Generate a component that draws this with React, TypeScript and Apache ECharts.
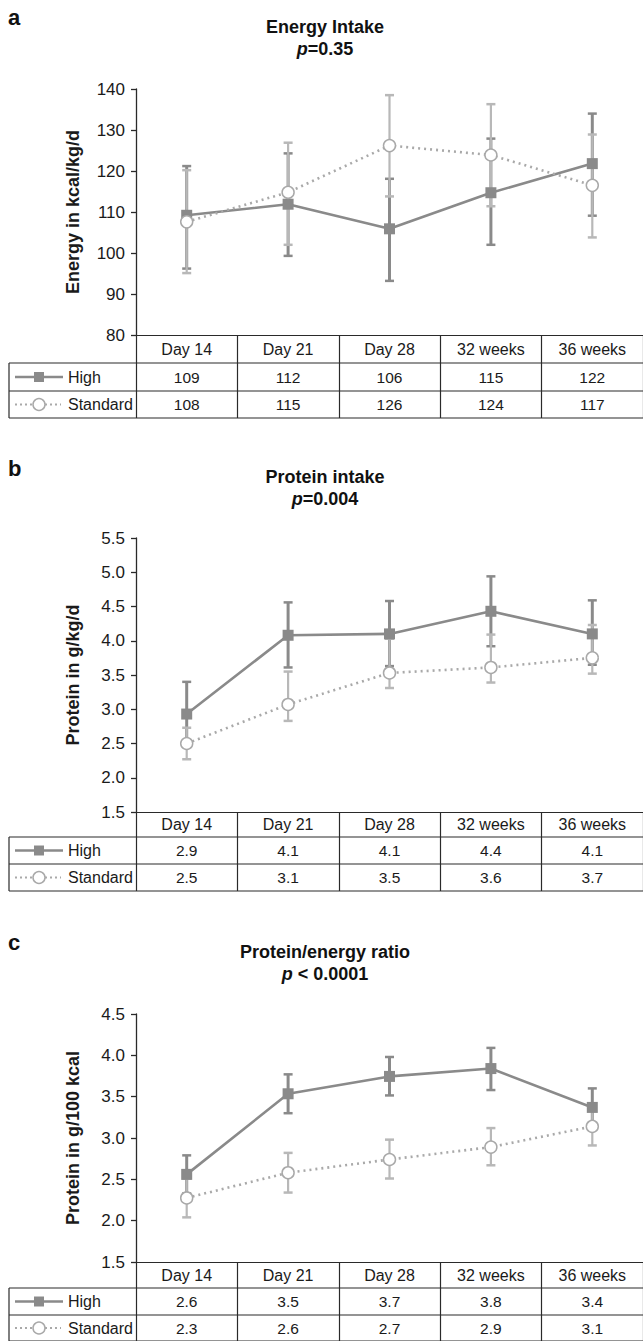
import React, { useEffect, useRef } from "react";
import * as echarts from "echarts";

const categories = ["Day 14", "Day 21", "Day 28", "32 weeks", "36 weeks"];

// Panel a — Energy intake
const energyHigh = [109.2, 111.9, 105.9, 114.7, 121.8];
const energyHighLow = [96.2, 99.3, 93.2, 102.0, 109.1];
const energyHighUp = [121.2, 124.3, 118.1, 127.9, 134.0];
const energyStd = [107.6, 114.8, 126.2, 123.9, 116.5];
const energyStdLow = [95.1, 102.0, 113.8, 111.4, 103.8];
const energyStdUp = [120.2, 126.9, 138.5, 136.3, 128.9];
const energyHighTable = ["109", "112", "106", "115", "122"];
const energyStdTable = ["108", "115", "126", "124", "117"];

// Panel b — Protein intake
const proteinHigh = [2.93, 4.08, 4.1, 4.43, 4.1];
const proteinHighLow = [2.45, 3.61, 3.63, 3.92, 3.65];
const proteinHighUp = [3.4, 4.56, 4.58, 4.94, 4.59];
const proteinStd = [2.5, 3.07, 3.53, 3.61, 3.75];
const proteinStdLow = [2.27, 2.83, 3.31, 3.39, 3.52];
const proteinStdUp = [2.73, 3.55, 4.03, 4.09, 4.23];
const proteinHighTable = ["2.9", "4.1", "4.1", "4.4", "4.1"];
const proteinStdTable = ["2.5", "3.1", "3.5", "3.6", "3.7"];

// Panel c — Protein/energy ratio
const ratioHigh = [2.56, 3.535, 3.745, 3.84, 3.37];
const ratioHighLow = [2.33, 3.3, 3.515, 3.58, 3.14];
const ratioHighUp = [2.79, 3.77, 3.98, 4.09, 3.6];
const ratioStd = [2.275, 2.58, 2.74, 2.89, 3.14];
const ratioStdLow = [2.04, 2.34, 2.51, 2.67, 2.91];
const ratioStdUp = [2.51, 2.82, 2.98, 3.12, 3.37];
const ratioHighTable = ["2.6", "3.5", "3.7", "3.8", "3.4"];
const ratioStdTable = ["2.3", "2.6", "2.7", "2.9", "3.1"];

const panelLetters = ["a", "b", "c"];
const panelTitles = ["Energy Intake", "Protein intake", "Protein/energy ratio"];
const panelPValues = ["=0.35", "=0.004", " < 0.0001"];
const yNames = ["Energy in kcal/kg/d", "Protein in g/kg/d", "Protein in g/100 kcal"];
const yMins = [80, 1.5, 1.5];
const yMaxs = [140, 5.5, 4.5];
const yIntervals = [10, 0.5, 0.5];
const yDecimals = [0, 1, 1];
const legendLabels = ["High", "Standard"];

const FONT = "'Liberation Sans', Arial, sans-serif";
const HIGH_COLOR = "#8a8a8a";
const STD_COLOR = "#a9a9a9";
const STD_ERR_COLOR = "#b8b8b8";
const TABLE_COLOR = "#2a2a2a";

const layout = [
  { top: 89, height: 246, rows: [28, 28, 27], letterY: 17, titleY: 27 },
  { top: 538, height: 274, rows: [25, 27, 27], letterY: 468, titleY: 477 },
  { top: 1014, height: 248, rows: [26, 27, 26], letterY: 942, titleY: 952 },
];

const panelData = [
  {
    high: energyHigh, highLow: energyHighLow, highUp: energyHighUp,
    std: energyStd, stdLow: energyStdLow, stdUp: energyStdUp,
    highTable: energyHighTable, stdTable: energyStdTable,
  },
  {
    high: proteinHigh, highLow: proteinHighLow, highUp: proteinHighUp,
    std: proteinStd, stdLow: proteinStdLow, stdUp: proteinStdUp,
    highTable: proteinHighTable, stdTable: proteinStdTable,
  },
  {
    high: ratioHigh, highLow: ratioHighLow, highUp: ratioHighUp,
    std: ratioStd, stdLow: ratioStdLow, stdUp: ratioStdUp,
    highTable: ratioHighTable, stdTable: ratioStdTable,
  },
];

function errorSeries(i: number, low: number[], up: number[], color: string, width: number, z: number) {
  return {
    type: "custom",
    xAxisIndex: i * 3,
    yAxisIndex: i,
    z,
    data: low.map((l, j) => [j, l, up[j]]),
    encode: { x: 0, y: [1, 2] },
    renderItem: (params: any, api: any) => {
      const b = api.coord([api.value(0), api.value(1)]);
      const t = api.coord([api.value(0), api.value(2)]);
      const style = { stroke: color, lineWidth: width };
      const capStyle = { stroke: color, lineWidth: 2.5 };
      const half = 4.5;
      return {
        type: "group",
        children: [
          { type: "line", shape: { x1: b[0], y1: b[1], x2: t[0], y2: t[1] }, style },
          { type: "line", shape: { x1: b[0] - half, y1: b[1], x2: b[0] + half, y2: b[1] }, style: capStyle },
          { type: "line", shape: { x1: t[0] - half, y1: t[1], x2: t[0] + half, y2: t[1] }, style: capStyle },
        ],
      };
    },
  };
}

function buildOption() {
  const grid: any[] = [];
  const xAxis: any[] = [];
  const yAxis: any[] = [];
  const series: any[] = [];
  const graphic: any[] = [];

  layout.forEach((L, i) => {
    const d = panelData[i];
    const axisY = L.top + L.height;
    const [h0, h1, h2] = L.rows;
    const tableH = h0 + h1 + h2;

    grid.push({ left: 136, top: L.top, width: 513, height: L.height });

    xAxis.push({
      gridIndex: i,
      type: "category",
      data: categories,
      boundaryGap: true,
      axisLine: { show: true, lineStyle: { color: TABLE_COLOR, width: 1.2 } },
      axisTick: { show: true, interval: 0, length: tableH, lineStyle: { color: TABLE_COLOR, width: 1.2 } },
      axisLabel: { interval: 0, margin: h0 / 2 - 8, fontSize: 16, color: "#1a1a1a", fontFamily: FONT },
      splitLine: { show: false },
    });
    xAxis.push({
      gridIndex: i,
      type: "category",
      data: d.highTable,
      position: "bottom",
      offset: h0,
      boundaryGap: true,
      axisLine: { show: false },
      axisTick: { show: false },
      axisLabel: { interval: 0, margin: h1 / 2 - 8, fontSize: 15.5, color: "#1a1a1a", fontFamily: FONT },
      splitLine: { show: false },
    });
    xAxis.push({
      gridIndex: i,
      type: "category",
      data: d.stdTable,
      position: "bottom",
      offset: h0 + h1,
      boundaryGap: true,
      axisLine: { show: false },
      axisTick: { show: false },
      axisLabel: { interval: 0, margin: h2 / 2 - 8, fontSize: 15.5, color: "#1a1a1a", fontFamily: FONT },
      splitLine: { show: false },
    });

    const dec = yDecimals[i];
    yAxis.push({
      gridIndex: i,
      type: "value",
      min: yMins[i],
      max: yMaxs[i],
      interval: yIntervals[i],
      name: yNames[i],
      nameLocation: "middle",
      nameGap: 54,
      nameTextStyle: { fontSize: 18, fontWeight: "bold", color: "#1a1a1a", fontFamily: FONT },
      axisLine: { show: true, lineStyle: { color: TABLE_COLOR, width: 1.3 } },
      axisTick: { show: true, length: 5, lineStyle: { color: TABLE_COLOR, width: 1.3 } },
      axisLabel: {
        margin: 11,
        fontSize: 17,
        color: "#1a1a1a",
        fontFamily: FONT,
        formatter: (v: number) => v.toFixed(dec),
      },
      splitLine: { show: false },
    });

    series.push(errorSeries(i, d.highLow, d.highUp, HIGH_COLOR, 3, 2));
    series.push(errorSeries(i, d.stdLow, d.stdUp, STD_ERR_COLOR, 2.2, 3));
    series.push({
      type: "line",
      xAxisIndex: i * 3,
      yAxisIndex: i,
      data: d.high,
      symbol: "rect",
      symbolSize: 11,
      z: 4,
      itemStyle: { color: HIGH_COLOR },
      lineStyle: { color: HIGH_COLOR, width: 2.6 },
    });
    series.push({
      type: "line",
      xAxisIndex: i * 3,
      yAxisIndex: i,
      data: d.std,
      symbol: "circle",
      symbolSize: 12,
      z: 5,
      itemStyle: { color: "#ffffff", borderColor: STD_COLOR, borderWidth: 1.5 },
      lineStyle: { color: STD_COLOR, width: 2.6, type: [2, 4] },
    });

    // table horizontal lines and left border
    const yHead = axisY + h0;
    const yRow1 = yHead + h1;
    const yRow2 = yRow1 + h2;
    [yHead, yRow1, yRow2].forEach((yy) => {
      graphic.push({
        type: "line",
        shape: { x1: 9, y1: yy, x2: 643, y2: yy },
        style: { stroke: TABLE_COLOR, lineWidth: 1.2 },
        silent: true,
      });
    });
    graphic.push({
      type: "line",
      shape: { x1: 9, y1: yHead, x2: 9, y2: yRow2 },
      style: { stroke: TABLE_COLOR, lineWidth: 1.2 },
      silent: true,
    });

    // legend cells
    const cyHigh = yHead + h1 / 2;
    const cyStd = yRow1 + h2 / 2;
    graphic.push({
      type: "line",
      shape: { x1: 15, y1: cyHigh, x2: 63, y2: cyHigh },
      style: { stroke: HIGH_COLOR, lineWidth: 2.6 },
    });
    graphic.push({
      type: "rect",
      shape: { x: 34, y: cyHigh - 5, width: 10, height: 10 },
      style: { fill: HIGH_COLOR },
    });
    graphic.push({
      type: "text",
      x: 68,
      y: cyHigh,
      style: { text: legendLabels[0], fontSize: 16, fill: "#1a1a1a", fontFamily: FONT, verticalAlign: "middle" },
    });
    graphic.push({
      type: "line",
      shape: { x1: 15, y1: cyStd, x2: 61, y2: cyStd },
      style: { stroke: STD_COLOR, lineWidth: 2, lineDash: [2, 3] },
    });
    graphic.push({
      type: "circle",
      shape: { cx: 39, cy: cyStd, r: 6 },
      style: { fill: "#ffffff", stroke: STD_COLOR, lineWidth: 1.5 },
    });
    graphic.push({
      type: "text",
      x: 68,
      y: cyStd,
      style: { text: legendLabels[1], fontSize: 16, fill: "#1a1a1a", fontFamily: FONT, verticalAlign: "middle" },
    });

    // panel letter and titles
    graphic.push({
      type: "text",
      x: 8,
      y: L.letterY,
      style: {
        text: panelLetters[i],
        fontSize: 22,
        fontWeight: "bold",
        fill: "#111",
        fontFamily: FONT,
        verticalAlign: "middle",
      },
    });
    graphic.push({
      type: "text",
      x: 325,
      y: L.titleY,
      style: {
        text: panelTitles[i],
        fontSize: 18,
        fontWeight: "bold",
        fill: "#111",
        fontFamily: FONT,
        align: "center",
        verticalAlign: "middle",
      },
    });
    graphic.push({
      type: "text",
      x: 325,
      y: L.titleY + 21.5,
      style: {
        text: "{p|p}{v|" + panelPValues[i] + "}",
        align: "center",
        verticalAlign: "middle",
        rich: {
          p: { fontSize: 18, fontWeight: "bold", fontStyle: "italic", fill: "#111", fontFamily: FONT },
          v: { fontSize: 18, fontWeight: "bold", fill: "#111", fontFamily: FONT },
        },
      },
    });
  });

  return {
    animation: false,
    backgroundColor: "#ffffff",
    grid,
    xAxis,
    yAxis,
    series,
    graphic,
  };
}

export default function App() {
  const ref = useRef<HTMLDivElement>(null);
  useEffect(() => {
    if (!ref.current) return;
    const chart = echarts.init(ref.current, undefined, { renderer: "svg" });
    chart.setOption(buildOption() as any);
    return () => chart.dispose();
  }, []);
  return (
    <div
      ref={ref}
      style={{ position: "absolute", left: 0, top: 0, width: 643, height: 1341, background: "#fff" }}
    />
  );
}
